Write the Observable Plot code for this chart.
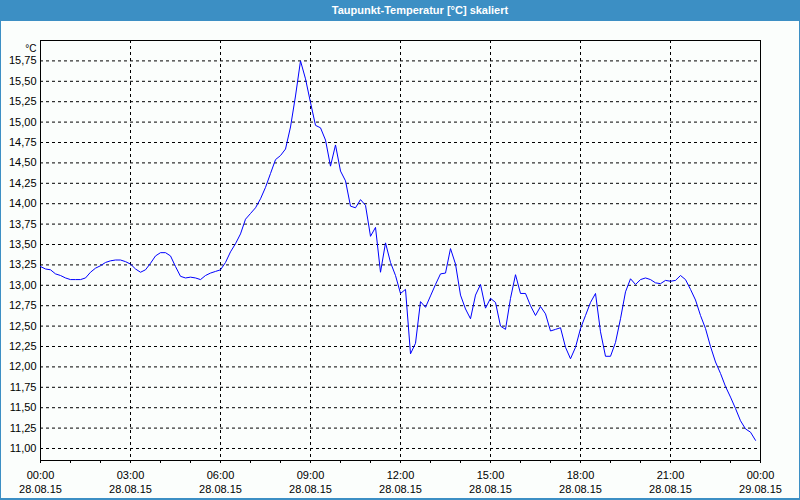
<!DOCTYPE html>
<html><head><meta charset="utf-8">
<script src="https://cdn.jsdelivr.net/npm/d3@7"></script>
<script src="https://cdn.jsdelivr.net/npm/@observablehq/plot@0.6"></script>
<style>
html,body{margin:0;padding:0;background:#fff;}
#frame{position:relative;width:800px;height:500px;background:#fbfefc;overflow:hidden;font-family:"Liberation Sans",Arial,sans-serif;}
#title{position:absolute;left:0;top:0;width:800px;height:21px;background:#3c8fc4;color:#fff;font-weight:bold;font-size:11px;line-height:21px;text-align:center;}
#title span{position:relative;left:20px;}
#chart{position:absolute;left:0;top:21px;}
#border{position:absolute;left:0;top:0;right:0;bottom:0;border-left:1px solid #3c8fc4;border-right:1px solid #3c8fc4;border-bottom:2px solid #3c8fc4;pointer-events:none;}
</style></head>
<body>
<div id="frame">
  <div id="title"><span>Taupunkt-Temperatur [°C] skaliert</span></div>
  <div id="chart"></div>
  <div id="border"></div>
</div>
<script>
// Dew point readings every 10 minutes, 28.08.15 00:00 .. 23:50
const startTime = new Date(2015, 7, 28, 0, 0);
const endTime = new Date(2015, 7, 29, 0, 0);
const stepMinutes = 10;
const values = [
  13.23, 13.20, 13.19, 13.14, 13.12, 13.09, 13.07, 13.07, 13.07, 13.09,
  13.16, 13.21, 13.24, 13.28, 13.30, 13.31, 13.31, 13.29, 13.26, 13.20,
  13.16, 13.19, 13.27, 13.36, 13.40, 13.40, 13.36, 13.23, 13.11, 13.09,
  13.10, 13.09, 13.07, 13.12, 13.15, 13.17, 13.19, 13.28, 13.41, 13.51,
  13.63, 13.81, 13.88, 13.95, 14.06, 14.20, 14.37, 14.54, 14.59, 14.67,
  14.94, 15.32, 15.75, 15.53, 15.24, 14.96, 14.93, 14.78, 14.46, 14.72,
  14.40, 14.28, 13.97, 13.95, 14.05, 13.98, 13.60, 13.71, 13.16, 13.52,
  13.28, 13.12, 12.90, 12.95, 12.16, 12.29, 12.80, 12.73, 12.87, 13.01,
  13.14, 13.15, 13.45, 13.26, 12.88, 12.71, 12.59, 12.88, 13.01, 12.72,
  12.84, 12.79, 12.50, 12.46, 12.84, 13.13, 12.90, 12.90, 12.75, 12.63,
  12.74, 12.65, 12.44, 12.46, 12.48, 12.24, 12.10, 12.24, 12.47, 12.63,
  12.79, 12.90, 12.43, 12.13, 12.13, 12.30, 12.59, 12.92, 13.08, 13.01,
  13.07, 13.09, 13.07, 13.03, 13.02, 13.06, 13.05, 13.06, 13.12, 13.07,
  12.95, 12.82, 12.63, 12.47, 12.25, 12.06, 11.92, 11.76, 11.63, 11.49,
  11.34, 11.24, 11.20, 11.10
];
const yTicks = [11.00, 11.25, 11.50, 11.75, 12.00, 12.25, 12.50, 12.75, 13.00, 13.25,
  13.50, 13.75, 14.00, 14.25, 14.50, 14.75, 15.00, 15.25, 15.50, 15.75];
const yDomain = [10.853, 16.0];
const xTickHours = [0, 3, 6, 9, 12, 15, 18, 21, 24];
const xMinorHours = [1, 2, 4, 5, 7, 8, 10, 11, 13, 14, 16, 17, 19, 20, 22, 23];
const unitLabel = "°C";

const data = values.map((v, i) => ({time: new Date(startTime.getTime() + i * stepMinutes * 60000), value: v}));
const hourDate = h => new Date(startTime.getTime() + h * 3600000);
const xTicks = xTickHours.map(hourDate);
const xMinor = xMinorHours.map(hourDate);
const fmtTime = d3.timeFormat("%H:%M");
const fmtDate = d3.timeFormat("%d.%m.%y");

const chart = Plot.plot({
  width: 800,
  height: 479,
  marginLeft: 40,
  marginRight: 40,
  marginTop: 19,
  marginBottom: 40,
  style: {background: "transparent", fontFamily: "'Liberation Sans', Arial, sans-serif", fontSize: "11px", color: "#000"},
  x: {type: "time", domain: [startTime, endTime]},
  y: {domain: yDomain},
  marks: [
    Plot.gridX(xTicks, {stroke: "#000", strokeOpacity: 1, strokeDasharray: "3,3"}),
    Plot.gridY(yTicks, {stroke: "#000", strokeOpacity: 1, strokeDasharray: "3,3"}),
    Plot.axisY(yTicks, {tickSize: 0, tickPadding: 4, tickFormat: d => d.toFixed(2).replace(".", ","), label: null}),
    Plot.axisX(xMinor, {tickSize: 3, fill: "none", label: null}),
    Plot.axisX(xTicks, {tickSize: 3, tickPadding: 6, lineHeight: 1.27, tickFormat: d => fmtTime(d) + "\n" + fmtDate(d), label: null}),
    Plot.frame({stroke: "#000"}),
    Plot.line(data, {x: "time", y: "value", stroke: "#0000ff", strokeWidth: 1}),
    Plot.text([unitLabel], {frameAnchor: "top-left", text: d => d, dx: -4, dy: 4, fontSize: 10, textAnchor: "end"})
  ]
});
document.getElementById("chart").appendChild(chart);
</script>
</body></html>
